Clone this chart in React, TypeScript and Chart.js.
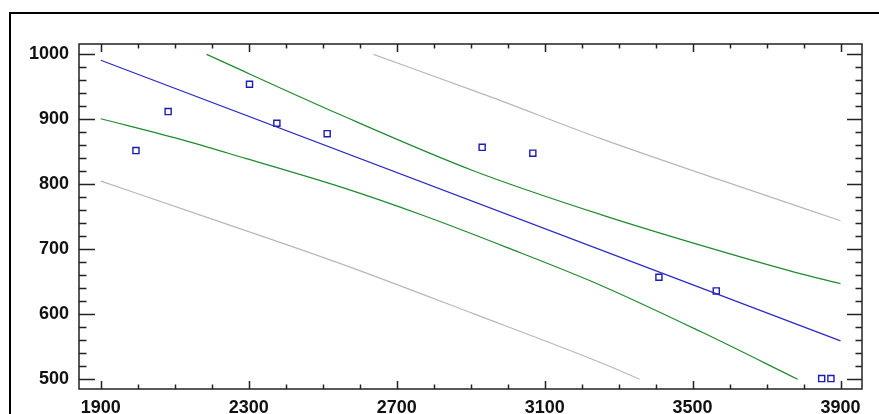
import React, { useEffect, useRef } from "react";
import { Chart, registerables } from "chart.js";

Chart.register(...registerables);

// Observed points
const OBS_X = [1995, 2082, 2302, 2376, 2512, 2931, 3068, 3409, 3564, 3849, 3874];
const OBS_Y = [852, 912, 954, 894, 878, 857, 848, 657, 636, 501, 501];

// Fitted line
const FIT_X = [1900, 3900];
const FIT_Y = [991, 559];

// Confidence limits (green)
const CONF_UP_X = [2186, 2548, 2907, 3254, 3523, 3775, 3900];
const CONF_UP_Y = [1000, 907, 821, 753, 706, 665, 647];
const CONF_LO_X = [1900, 2111, 2291, 2548, 2772, 2997, 3254, 3523, 3784];
const CONF_LO_Y = [901, 870, 840, 796, 752, 703, 644, 573, 500];

// Prediction limits (gray)
const PRED_UP_X = [2637, 2943, 3254, 3568, 3900];
const PRED_UP_Y = [1000, 937, 870, 808, 744];
const PRED_LO_X = [1900, 2183, 2548, 2907, 3254, 3357];
const PRED_LO_Y = [805, 750, 678, 601, 525, 500];

// Axes
const X_TICKS = [1900, 2300, 2700, 3100, 3500, 3900];
const Y_TICKS = [500, 600, 700, 800, 900, 1000];
const X_MINOR_STEP = 100;
const Y_MINOR_STEP = 20;
const X_RANGE = [1841, 3958];
const Y_RANGE = [485, 1016];

const pts = (xs: number[], ys: number[]) => xs.map((x, i) => ({ x, y: ys[i] }));

const tickPlugin = {
  id: "frameTicks",
  afterDatasetsDraw(chart: any) {
    const { ctx, chartArea: a, scales } = chart;
    const xs = scales.x;
    const ys = scales.y;
    ctx.save();
    ctx.strokeStyle = "#222";
    ctx.lineWidth = 1.5;
    ctx.strokeRect(a.left, a.top, a.right - a.left, a.bottom - a.top);
    ctx.beginPath();
    const x0 = X_TICKS[0];
    const xEnd = X_TICKS[X_TICKS.length - 1];
    for (let v = x0; v <= xEnd; v += X_MINOR_STEP) {
      const major = X_TICKS.includes(v);
      const len = major ? 8 : 4.5;
      const px = Math.round(xs.getPixelForValue(v)) + 0.5;
      ctx.moveTo(px, a.bottom);
      ctx.lineTo(px, a.bottom - len);
      ctx.moveTo(px, a.top);
      ctx.lineTo(px, a.top + len);
    }
    const y0 = Y_TICKS[0];
    const yEnd = Y_TICKS[Y_TICKS.length - 1];
    for (let v = y0; v <= yEnd; v += Y_MINOR_STEP) {
      const major = Y_TICKS.includes(v);
      const lenL = major ? 16 : 7.5;
      const lenR = major ? 15 : 6.5;
      const py = Math.round(ys.getPixelForValue(v)) + 0.5;
      ctx.moveTo(a.left, py);
      ctx.lineTo(a.left + lenL, py);
      ctx.moveTo(a.right, py);
      ctx.lineTo(a.right - lenR, py);
    }
    ctx.stroke();
    ctx.restore();
  },
};

export default function App() {
  const ref = useRef<HTMLCanvasElement | null>(null);
  useEffect(() => {
    if (!ref.current) return;
    const lineDs = (label: string, data: any, color: string) => ({
      type: "line" as const,
      label,
      data,
      borderColor: color,
      backgroundColor: color,
      borderWidth: 1.2,
      pointRadius: 0,
      showLine: true,
      fill: false,
      cubicInterpolationMode: "monotone" as const,
    });
    const chart = new Chart(ref.current, {
      type: "scatter",
      data: {
        datasets: [
          lineDs("pred upper", pts(PRED_UP_X, PRED_UP_Y), "#b8b8b8"),
          lineDs("pred lower", pts(PRED_LO_X, PRED_LO_Y), "#b8b8b8"),
          lineDs("conf upper", pts(CONF_UP_X, CONF_UP_Y), "#1e8a2e"),
          lineDs("conf lower", pts(CONF_LO_X, CONF_LO_Y), "#1e8a2e"),
          lineDs("fit", pts(FIT_X, FIT_Y), "#2a2ac4"),
          {
            type: "scatter" as const,
            label: "observed",
            data: pts(OBS_X, OBS_Y),
            pointStyle: "rect",
            pointRadius: 4.3,
            borderColor: "#1c1cb4",
            backgroundColor: "rgba(0,0,0,0)",
            borderWidth: 1.4,
          },
        ] as any,
      },
      options: {
        animation: false,
        responsive: false,
        events: [],
        layout: { padding: { left: 0, top: 44, right: 17, bottom: 0 } },
        plugins: { legend: { display: false }, tooltip: { enabled: false } },
        scales: {
          x: {
            type: "linear",
            min: X_RANGE[0],
            max: X_RANGE[1],
            afterBuildTicks: (s: any) => {
              s.ticks = X_TICKS.map((v) => ({ value: v }));
            },
            afterFit: (s: any) => {
              s.height = 25;
            },
            grid: { display: false, drawTicks: false },
            border: { display: false },
            ticks: {
              autoSkip: false,
              maxRotation: 0,
              padding: 8,
              color: "#111",
              font: { family: "'Liberation Sans', Arial, sans-serif", size: 18, weight: "bold" },
              callback: (v: any) => String(v),
            },
          },
          y: {
            type: "linear",
            min: Y_RANGE[0],
            max: Y_RANGE[1],
            afterBuildTicks: (s: any) => {
              s.ticks = Y_TICKS.map((v) => ({ value: v }));
            },
            afterFit: (s: any) => {
              s.width = 79;
            },
            grid: { display: false, drawTicks: false },
            border: { display: false },
            ticks: {
              autoSkip: false,
              padding: 10,
              color: "#111",
              font: { family: "'Liberation Sans', Arial, sans-serif", size: 18, weight: "bold" },
              callback: (v: any) => String(v),
            },
          },
        },
      } as any,
      plugins: [tickPlugin],
    });
    return () => chart.destroy();
  }, []);

  return (
    <div
      style={{
        position: "fixed",
        left: 0,
        top: 0,
        width: 879,
        height: 414,
        overflow: "hidden",
        background: "#fff",
      }}
    >
      <canvas
        ref={ref}
        width={879}
        height={414}
        style={{ position: "absolute", left: 0, top: 0, width: 879, height: 414 }}
      />
      <div
        style={{
          position: "absolute",
          left: 9,
          top: 12,
          width: 940,
          height: 460,
          border: "2px solid #000",
          pointerEvents: "none",
        }}
      />
    </div>
  );
}
